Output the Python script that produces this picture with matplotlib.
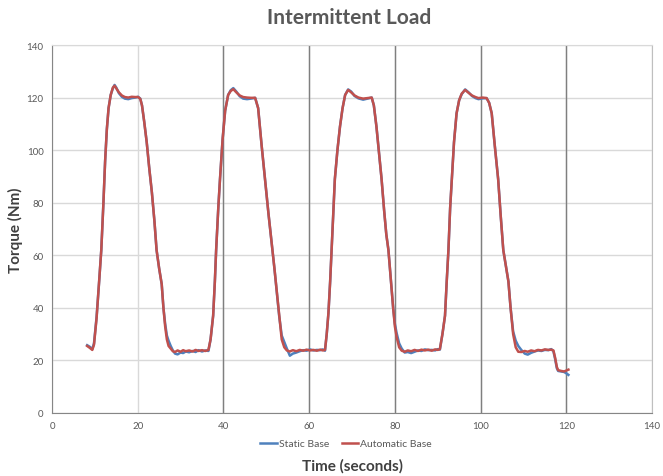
import matplotlib
matplotlib.use("Agg")
import matplotlib.pyplot as plt

plt.rcParams['font.family'] = ['Lato', 'DejaVu Sans']

time = [8.2, 8.8, 9.4, 9.8, 10.4, 11.0, 11.5, 12.0, 12.4, 12.8, 13.2, 13.7, 14.2, 14.6, 15.0, 15.6,
        16.3, 17.0, 17.8, 18.6, 19.4, 20.1, 20.6, 21.0, 21.5, 22.1, 22.7, 23.3, 23.9, 24.4, 25.0, 25.6,
        26.0, 26.4, 26.8, 27.2, 27.7, 28.2, 28.7, 29.3, 30.0, 30.6, 31.2, 32.0, 32.8, 33.5, 34.2, 35.0,
        35.8, 36.5, 37.0, 37.6, 38.0, 38.3, 38.8, 39.2, 39.8, 40.4, 41.1, 41.7, 42.3, 43.0, 43.8, 44.6,
        45.5, 46.4, 47.4, 48.1, 48.9, 49.7, 50.5, 51.3, 51.9, 52.4, 53.0, 53.6, 54.2, 54.8, 55.5, 56.2,
        57.0, 57.8, 58.6, 59.4, 60.2, 61.0, 61.8, 62.6, 63.2, 63.7, 64.1, 64.5, 64.9, 65.3, 65.7, 66.0,
        66.6, 67.2, 67.8, 68.4, 69.1, 69.8, 70.6, 71.5, 72.6, 73.6, 74.6, 75.1, 75.7, 76.3, 76.9, 77.5,
        78.0, 78.5, 79.0, 79.6, 80.0, 80.4, 81.0, 81.6, 82.3, 83.0, 83.8, 84.6, 85.4, 86.2, 87.0, 87.8,
        88.6, 89.4, 90.0, 90.5, 91.1, 91.7, 92.1, 92.5, 92.9, 93.3, 93.8, 94.4, 95.0, 95.6, 96.4, 97.2,
        98.0, 98.8, 99.5, 100.5, 101.4, 102.0, 102.6, 103.3, 104.1, 104.7, 105.3, 105.9, 106.5, 107.0,
        107.6, 108.2, 108.8, 109.5, 110.3, 111.0, 111.8, 112.6, 113.4, 114.2, 115.0, 115.8, 116.5,
        117.0, 117.4, 117.8, 118.1, 118.8, 119.5, 120.1, 120.5]

automatic_base = [25.5, 24.8, 24.0, 26, 36, 50, 62, 80, 96, 108, 116, 121, 123.8, 124.5, 123.5, 122,
                  120.8, 120.2, 120.0, 120.3, 120.2, 120.2, 119.5, 117, 111, 103, 93, 84, 73, 62, 55, 49,
                  40, 33, 28, 25.5, 24.5, 23.5, 23.2, 23.8, 23.3, 23.9, 23.5, 23.8, 23.4, 24.0, 23.6, 23.9,
                  23.6, 24.0, 28, 37, 50, 62, 78, 89, 104, 115, 121, 122.5, 123.2, 122, 120.8, 120.2,
                  120, 119.9, 119.9, 116, 102, 89, 76, 64, 55, 47, 37, 28, 25, 23.8, 23.4, 23.9,
                  23.5, 24.0, 23.7, 24.1, 23.8, 24.0, 23.7, 24.1, 23.8, 24.0, 30, 38, 50, 64, 78, 89,
                  100, 109, 116, 121, 122.9, 122, 120.8, 120, 119.6, 119.8, 120, 117, 109, 99, 89, 77,
                  68, 62, 52, 40, 33, 29, 25, 23.7, 23.3, 23.8, 23.5, 24, 23.6, 24.1, 23.8, 24.1,
                  23.7, 24.2, 24, 24.3, 30, 37, 50, 62, 78, 89, 103, 114, 119, 121.5, 122.9, 121.8,
                  120.8, 120.2, 119.8, 120, 119.8, 118, 114, 102, 89, 75, 62, 56, 50, 40,
                  30, 25, 23.3, 23.2, 23.6, 23.3, 23.8, 23.5, 24.0, 23.8, 24.2, 24.0, 24.1,
                  23.8, 21, 17.5, 16.3, 16, 15.8, 16.2, 16.5]

static_base = [25.8, 25.2, 24.3, 26.5, 36.5, 50, 62, 80, 96, 108, 116, 121, 123.5, 124.8, 123.8, 121.7,
               120.3, 119.6, 119.4, 119.8, 120.0, 120.3, 119.6, 117, 111, 103, 93, 84, 73, 62, 55, 49,
               40, 34, 29.5, 27.5, 25.5, 23.8, 22.6, 22.3, 23.0, 22.8, 23.4, 23.1, 23.6, 23.2, 23.9, 23.4,
               23.8, 23.6, 28, 37, 50, 62, 78, 89, 104, 115, 121, 122.8, 123.6, 122.3, 120.5, 119.6,
               119.4, 119.6, 119.9, 116, 102, 89, 76, 64, 55, 47, 37, 29.5, 27, 24.5, 21.8, 22.6,
               23.0, 23.5, 23.9, 23.7, 24.2, 23.8, 24.0, 23.9, 24.2, 23.7, 30, 38, 50, 64, 78, 89,
               100, 109, 116, 121, 123.1, 122.3, 120.6, 119.7, 119.2, 119.6, 120, 117, 109, 99, 89, 77,
               68, 62, 52, 40, 34, 30.5, 26.5, 24.5, 23.0, 23.2, 22.8, 23.3, 23.8, 23.6, 24.2, 23.9,
               24.0, 23.8, 24.3, 24.1, 30, 37, 50, 62, 78, 89, 103, 114, 119, 121.3, 123.1, 122.0,
               120.6, 119.8, 119.4, 119.7, 119.8, 118, 114, 102, 89, 75, 62, 56, 50, 40,
               31, 27.5, 25.5, 24.0, 22.6, 22.2, 22.9, 23.4, 23.8, 23.6, 24.0, 23.9, 24.3,
               23.5, 20.5, 17, 16.0, 15.8, 15.6, 15.0, 14.5]

x_ticks = [0, 20, 40, 60, 80, 100, 120, 140]
y_ticks = [0, 20, 40, 60, 80, 100, 120, 140]
dark_vlines = [40, 60, 80, 100, 120]

fig = plt.figure(figsize=(6.63, 4.77), dpi=100)
ax = fig.add_axes([52/663, 63/477, 600/663, 368/477])

ax.set_xlim(0, 140)
ax.set_ylim(0, 140)
ax.set_xticks(x_ticks)
ax.set_yticks(y_ticks)
ax.grid(True, color='#d9d9d9', linewidth=1.0)
ax.set_axisbelow(True)
for v in dark_vlines:
    ax.axvline(v, color='#7f7f7f', linewidth=1.0, zorder=1)

ax.plot(time, static_base, color='#4f81bd', linewidth=1.8, label='Static Base', zorder=3)
ax.plot(time, automatic_base, color='#c0504d', linewidth=1.8, label='Automatic Base', zorder=4)

ax.spines['top'].set_color('#d9d9d9')
ax.spines['right'].set_color('#bfbfbf')
ax.spines['left'].set_color('#868686')
ax.spines['bottom'].set_color('#868686')
ax.tick_params(axis='both', length=0, labelsize=7, colors='#595959', pad=6)

fig.text(352/663, 1 - 466/477, 'Time (seconds)', fontsize=11, fontweight='bold',
         color='#404040', ha='center', va='center')
fig.text(15/663, 1 - 230/477, 'Torque (Nm)', fontsize=11, fontweight='bold',
         color='#404040', ha='center', va='center', rotation=90)
fig.text(349/663, 1 - 18/477, 'Intermittent Load', fontsize=15, fontweight='bold',
         color='#595959', ha='center', va='center')

leg = ax.legend(loc='upper center', bbox_to_anchor=(0.49, -0.045), ncol=2, frameon=False,
                fontsize=7.5, handlelength=1.6, handletextpad=0.2, columnspacing=1.2)
for t in leg.get_texts():
    t.set_color('#595959')

fig.savefig('out.png', dpi=100)
